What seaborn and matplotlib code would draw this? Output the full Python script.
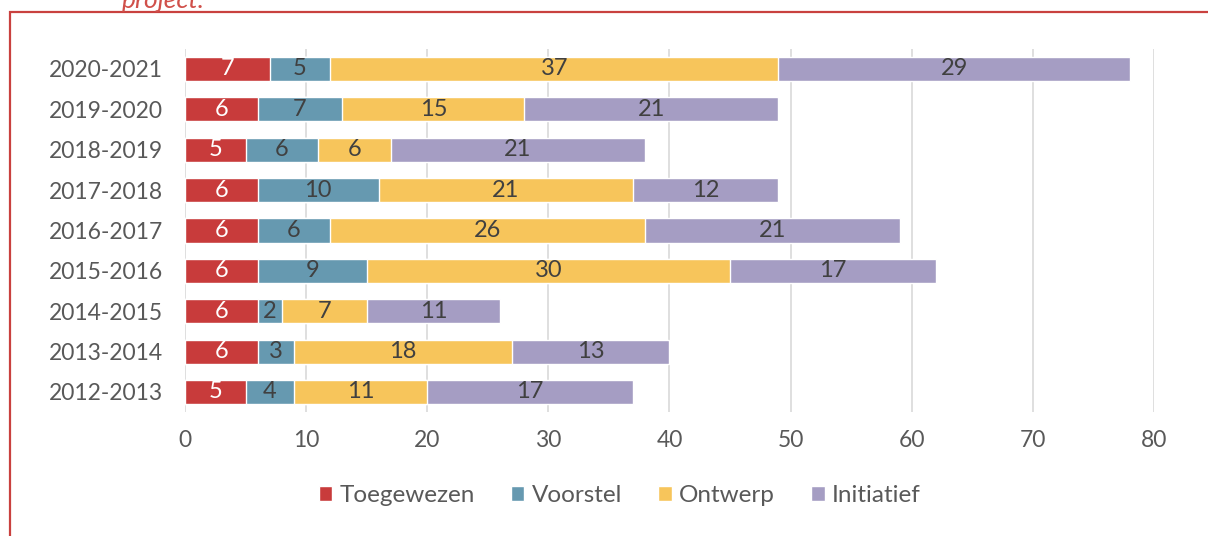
import pandas as pd
import numpy as np
import matplotlib.pyplot as plt
import seaborn as sns
from matplotlib.patches import Rectangle, Patch

# data
years = ['2020-2021', '2019-2020', '2018-2019', '2017-2018', '2016-2017',
         '2015-2016', '2014-2015', '2013-2014', '2012-2013']
toegewezen = [7, 6, 5, 6, 6, 6, 6, 6, 5]
voorstel = [5, 7, 6, 10, 6, 9, 2, 3, 4]
ontwerp = [37, 15, 6, 21, 26, 30, 7, 18, 11]
initiatief = [29, 21, 21, 12, 21, 17, 11, 13, 17]

series = ['Toegewezen', 'Voorstel', 'Ontwerp', 'Initiatief']
colors = {'Toegewezen': '#C83B3B', 'Voorstel': '#6699B0',
          'Ontwerp': '#F7C55B', 'Initiatief': '#A59DC3'}
label_colors = {'Toegewezen': 'white', 'Voorstel': '#404040',
                'Ontwerp': '#404040', 'Initiatief': '#404040'}

df = pd.DataFrame({'Jaar': years, 'Toegewezen': toegewezen, 'Voorstel': voorstel,
                   'Ontwerp': ontwerp, 'Initiatief': initiatief})
cum = df[series].cumsum(axis=1)

sns.set_theme(style='white')
plt.rcParams['font.family'] = ['Lato', 'DejaVu Sans']

fig = plt.figure(figsize=(12.08, 5.36), dpi=100)
ax = fig.add_axes([0.1531, 0.231, 0.8022, 0.678])

# stacked bars: draw cumulative totals from the outermost segment inwards
for s in reversed(series):
    sns.barplot(x=cum[s], y=df['Jaar'], order=years, color=colors[s],
                orient='h', width=0.6, edgecolor='white', linewidth=1,
                saturation=1, ax=ax, zorder=3)

# segment labels
for i in range(len(years)):
    for s in series:
        v = df.loc[i, s]
        mid = cum.loc[i, s] - v / 2
        ax.text(mid, i, str(v), ha='center', va='center', fontsize=17,
                color=label_colors[s], zorder=4)

ax.set_xlim(0, 80)
ax.set_ylim(8.5, -0.5)
ax.set_xticks(range(0, 81, 10))
ax.xaxis.grid(True, color='#D9D9D9', linewidth=1.2, zorder=0)
ax.yaxis.grid(False)
for sp in ax.spines.values():
    sp.set_visible(False)
ax.set_xlabel('')
ax.set_ylabel('')
ax.tick_params(axis='both', length=0, labelsize=16.5, labelcolor='#595959')
ax.tick_params(axis='x', pad=13)
ax.tick_params(axis='y', pad=16)

handles = [Patch(facecolor=colors[s], label=s) for s in series]
fig.legend(handles=handles, loc='center', bbox_to_anchor=(0.513, 0.075), ncol=4,
           frameon=False, fontsize=17.5, handlelength=0.55, handleheight=0.55,
           handletextpad=0.3, columnspacing=1.5, labelcolor='#595959')

# red frame and cut-off caption above it
fig.patches.append(Rectangle((10 / 1208, -0.05), 1.1, 0.05 + 1 - 12 / 536,
                             transform=fig.transFigure, fill=False,
                             edgecolor='#C9413F', linewidth=1.6))
fig.text(122 / 1208, 1 - 8 / 536, 'project.', color='#D0504A', fontsize=19,
         style='italic', va='baseline')

fig.savefig('out.png', dpi=100)
